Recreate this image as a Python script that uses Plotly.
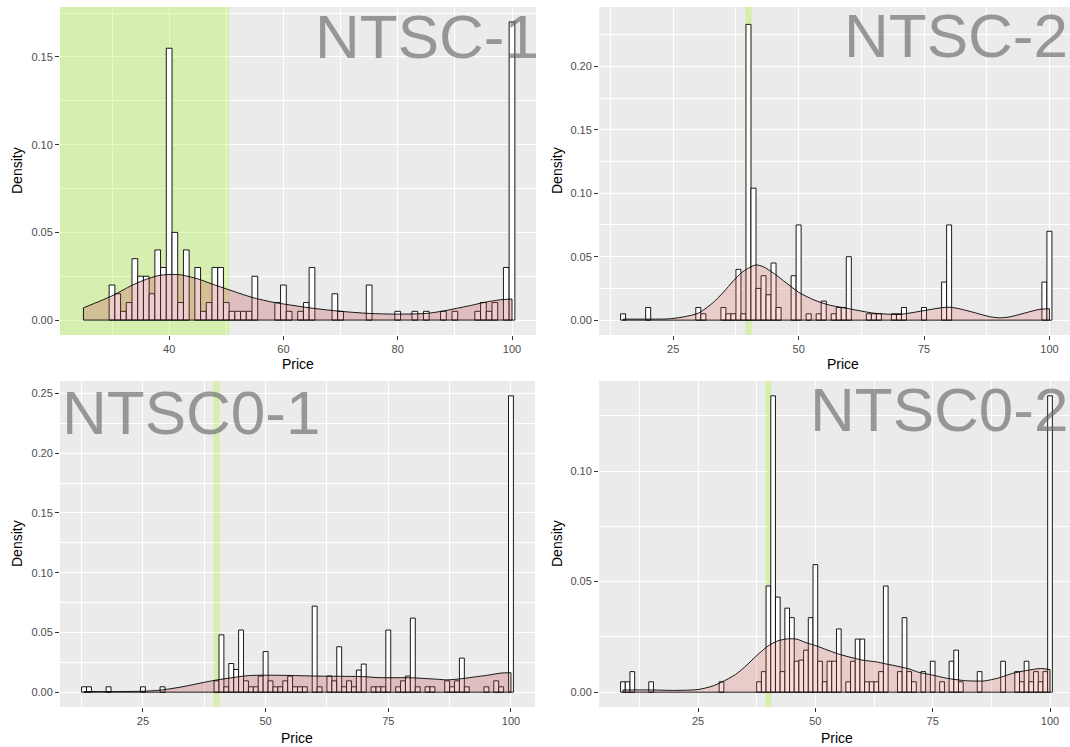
import plotly.graph_objects as go

W, H = 1070, 747

# ---------------- data ----------------
labels = ["NTSC-1", "NTSC-2", "NTSC0-1", "NTSC0-2"]

# histogram bins (price, density) per panel
p1_price = [30, 31, 32, 33, 34, 35, 36, 37, 38, 39, 40, 41, 42, 43, 45, 46, 47, 48, 49, 50,
            51, 52, 53, 54, 55, 59, 60, 61, 63, 64, 65, 69, 70, 75, 80, 83, 85, 88, 90, 94,
            95, 96, 97, 99, 100]
p1_dens = [0.02, 0.015, 0.005, 0.01, 0.035, 0.025, 0.025, 0.015, 0.04, 0.03, 0.155, 0.05, 0.01, 0.04, 0.03, 0.005, 0.01, 0.03, 0.03, 0.01,
           0.005, 0.005, 0.005, 0.005, 0.025, 0.01, 0.02, 0.005, 0.005, 0.01, 0.03, 0.015, 0.005, 0.02, 0.005, 0.005, 0.005, 0.005, 0.005, 0.005,
           0.01, 0.005, 0.01, 0.03, 0.17]

p2_price = [15, 20, 30, 31, 35, 36, 37, 38, 39, 40, 41, 42, 43, 44, 45, 46, 49, 50, 52, 54,
            55, 57, 58, 59, 60, 64, 65, 66, 69, 70, 71, 75, 79, 80, 99, 100]
p2_dens = [0.005, 0.01, 0.01, 0.005, 0.01, 0.005, 0.005, 0.04, 0.005, 0.233, 0.104, 0.025, 0.035, 0.02, 0.045, 0.01, 0.035, 0.075, 0.005, 0.005,
           0.015, 0.005, 0.01, 0.01, 0.05, 0.005, 0.005, 0.005, 0.005, 0.005, 0.01, 0.01, 0.03, 0.075, 0.03, 0.07]

p3_price = [13, 14, 18, 25, 29, 40, 41, 42, 43, 44, 45, 46, 47, 48, 49, 50, 51, 52, 53, 54,
            55, 56, 57, 58, 60, 61, 63, 64, 65, 66, 67, 68, 69, 70, 72, 73, 74, 75, 77, 78,
            79, 80, 81, 83, 84, 87, 88, 89, 90, 91, 95, 97, 98, 100]
p3_dens = [0.0045, 0.0045, 0.0045, 0.0045, 0.0045, 0.0095, 0.048, 0.0045, 0.024, 0.019, 0.052, 0.0095, 0.0045, 0.0045, 0.0135, 0.034, 0.0095, 0.0045, 0.0045, 0.0095,
           0.0135, 0.0045, 0.0045, 0.0045, 0.072, 0.0045, 0.0135, 0.0095, 0.038, 0.0045, 0.0095, 0.0045, 0.0185, 0.0235, 0.0045, 0.0045, 0.0045, 0.052, 0.0045, 0.0095,
           0.0135, 0.062, 0.0045, 0.0045, 0.0045, 0.0095, 0.0045, 0.0095, 0.0285, 0.0045, 0.0045, 0.0095, 0.0045, 0.248]

p4_price = [9, 10, 11, 15, 30, 38, 39, 40, 41, 42, 43, 44, 45, 46, 47, 48, 49, 50, 51, 52,
            53, 54, 55, 57, 58, 59, 60, 61, 62, 63, 64, 65, 68, 69, 70, 71, 73, 75, 77, 79,
            80, 81, 85, 90, 93, 94, 95, 96, 97, 98, 99, 100]
p4_dens = [0.0047, 0.0047, 0.0093, 0.0047, 0.0047, 0.0047, 0.0093, 0.048, 0.134, 0.043, 0.0093, 0.038, 0.0337, 0.014, 0.0145, 0.019, 0.0337, 0.0577, 0.014, 0.0047,
           0.014, 0.014, 0.0286, 0.0047, 0.014, 0.024, 0.024, 0.0047, 0.0047, 0.0047, 0.0093, 0.048, 0.0093, 0.0337, 0.0093, 0.0047, 0.0093, 0.014, 0.0047, 0.014,
           0.019, 0.0047, 0.0093, 0.014, 0.0093, 0.0047, 0.014, 0.0047, 0.0093, 0.0047, 0.0093, 0.134]

# density curves
c1_x = [25, 28, 30, 33, 35, 38, 40, 42, 45, 48, 50, 53, 55, 58, 60, 65, 70, 75, 80, 85, 88, 90, 93, 95, 98, 100]
c1_y = [0.007, 0.011, 0.0138, 0.019, 0.022, 0.0253, 0.026, 0.0258, 0.0235, 0.020, 0.0178, 0.0145, 0.0125, 0.0103, 0.0092, 0.0068, 0.005, 0.0038, 0.0034, 0.0038, 0.0052, 0.0065, 0.0085, 0.010, 0.0116, 0.012]

c2_x = [15, 20, 24, 27, 30, 33, 35, 37, 38.5, 40, 41.5, 43, 45, 47, 50, 53, 56, 60, 65, 70, 72, 75, 78, 80, 82, 85, 88, 90, 92, 95, 98, 100]
c2_y = [0.0008, 0.0008, 0.001, 0.0025, 0.0055, 0.014, 0.022, 0.031, 0.037, 0.041, 0.0435, 0.042, 0.037, 0.031, 0.022, 0.016, 0.012, 0.009, 0.0055, 0.0045, 0.0055, 0.0075, 0.0095, 0.0102, 0.009, 0.006, 0.0028, 0.0018, 0.0025, 0.0055, 0.0085, 0.009]

c3_x = [13, 20, 25, 28, 30, 33, 36, 38, 40, 43, 45, 47, 50, 55, 60, 65, 70, 73, 80, 85, 87, 90, 93, 95, 98, 100]
c3_y = [0.0005, 0.0005, 0.0008, 0.0015, 0.0025, 0.0045, 0.007, 0.0087, 0.0102, 0.012, 0.0132, 0.014, 0.0142, 0.014, 0.0135, 0.0133, 0.013, 0.0122, 0.012, 0.0108, 0.0103, 0.0113, 0.013, 0.014, 0.016, 0.0163]

c4_x = [9, 15, 20, 25, 28, 30, 33, 35, 38, 40, 42, 44, 46, 48, 50, 52, 55, 58, 60, 63, 65, 68, 70, 72, 75, 78, 82, 86, 89, 92, 95, 98, 100]
c4_y = [0.001, 0.001, 0.0008, 0.0012, 0.0027, 0.0045, 0.008, 0.0115, 0.0175, 0.021, 0.0232, 0.0241, 0.024, 0.0224, 0.0211, 0.0195, 0.0172, 0.0155, 0.0145, 0.0137, 0.0128, 0.0115, 0.0105, 0.009, 0.0077, 0.0063, 0.0052, 0.0051, 0.0064, 0.0085, 0.0098, 0.0107, 0.0102]

# axis ticks
x_ticks = [[40, 60, 80, 100], [25, 50, 75, 100], [25, 50, 75, 100], [25, 50, 75, 100]]
y_ticks = [[0, 0.05, 0.10, 0.15], [0, 0.05, 0.10, 0.15, 0.20],
           [0, 0.05, 0.10, 0.15, 0.20, 0.25], [0, 0.05, 0.10]]

# ---------------- layout geometry (pixels) ----------------
panels = [
    dict(bx=p1_price, by=p1_dens, cx=c1_x, cy=c1_y, px=(60, 536), py=(7, 335),
         xr=[20.9, 104.2], yr=[-0.0085, 0.1785], green=(None, 50.5),
         fill="rgba(190,70,70,0.27)"),
    dict(bx=p2_price, by=p2_dens, cx=c2_x, cy=c2_y, px=(599, 1070), py=(7, 335),
         xr=[10.2, 104.1], yr=[-0.0117, 0.2467], green=(39.35, 40.65),
         fill="rgba(215,90,80,0.21)"),
    dict(bx=p3_price, by=p3_dens, cx=c3_x, cy=c3_y, px=(60, 535), py=(381, 707),
         xr=[8.1, 104.9], yr=[-0.0124, 0.2604], green=(39.35, 40.65),
         fill="rgba(190,70,70,0.27)"),
    dict(bx=p4_price, by=p4_dens, cx=c4_x, cy=c4_y, px=(599, 1070), py=(381, 707),
         xr=[3.9, 104.26], yr=[-0.0067, 0.1407], green=(39.35, 40.65),
         fill="rgba(215,90,80,0.21)"),
]

label_pos = [  # (x px, anchor, y px centre)
    (541, "right", 37), (1070, "right", 35), (60, "left", 412), (1070, "right", 409)]
price_pos = [(298, 364), (843, 364), (297, 738), (837, 738)]
dens_pos = [(17, 171), (557, 171), (17, 544), (557, 544)]

GREEN = "rgba(175,245,60,0.33)"
fig = go.Figure()
layout = dict(width=W, height=H, margin=dict(l=0, r=0, t=0, b=0),
              plot_bgcolor="#EBEBEB", paper_bgcolor="white", showlegend=False,
              shapes=[], annotations=[])


def minors(t):
    step = t[1] - t[0]
    return [t[0] - step / 2] + [(a + b) / 2 for a, b in zip(t[:-1], t[1:])] + [t[-1] + step / 2]


TICKFONT = dict(family="Liberation Sans, Arial", size=11, color="#4D4D4D")

for i, p in enumerate(panels):
    n = "" if i == 0 else str(i + 1)
    xa, ya = "x" + n, "y" + n
    fig.add_trace(go.Bar(x=p["bx"], y=p["by"], width=1,
                         marker=dict(color="white", line=dict(color="black", width=0.9)),
                         xaxis=xa, yaxis=ya, hoverinfo="skip"))
    fig.add_trace(go.Scatter(x=p["cx"], y=p["cy"], mode="lines", fill="tozeroy",
                             fillcolor=p["fill"],
                             line=dict(color="black", width=0.9, shape="spline", smoothing=0.7),
                             xaxis=xa, yaxis=ya, hoverinfo="skip"))
    cx, cy = p["cx"], p["cy"]
    fig.add_trace(go.Scatter(x=[cx[-1], cx[-1], cx[0], cx[0]], y=[cy[-1], 0, 0, cy[0]],
                             mode="lines", line=dict(color="black", width=0.9),
                             xaxis=xa, yaxis=ya, hoverinfo="skip"))
    xt, yt = x_ticks[i], y_ticks[i]
    layout["xaxis" + n] = dict(
        domain=[p["px"][0] / W, p["px"][1] / W], range=p["xr"], anchor=ya,
        tickvals=xt, ticktext=[str(v) for v in xt], ticks="outside", ticklen=4,
        tickcolor="#333333", tickfont=TICKFONT,
        showgrid=True, gridcolor="white", gridwidth=1.4, zeroline=False, showline=False,
        minor=dict(tickvals=minors(xt), showgrid=True, gridcolor="white", gridwidth=0.7))
    layout["yaxis" + n] = dict(
        domain=[1 - p["py"][1] / H, 1 - p["py"][0] / H], range=p["yr"], anchor=xa,
        tickvals=yt, ticktext=["%.2f" % v for v in yt], ticks="outside", ticklen=4,
        tickcolor="#333333", tickfont=TICKFONT,
        showgrid=True, gridcolor="white", gridwidth=1.4, zeroline=False, showline=False,
        minor=dict(tickvals=minors(yt), showgrid=True, gridcolor="white", gridwidth=0.7))
    g0, g1 = p["green"]
    layout["shapes"].append(dict(type="rect", xref=xa, yref=ya,
                                 x0=p["xr"][0] if g0 is None else g0, x1=g1,
                                 y0=p["yr"][0], y1=p["yr"][1],
                                 fillcolor=GREEN, line=dict(width=0), layer="between"))
    lx, anc, ly = label_pos[i]
    layout["annotations"].append(dict(text=labels[i], xref="paper", yref="paper",
                                      x=lx / W, y=1 - ly / H, xanchor=anc, yanchor="middle",
                                      showarrow=False,
                                      font=dict(family="Liberation Sans, Arial", size=62,
                                                color="rgba(100,100,100,0.63)")))
    px_, py_ = price_pos[i]
    layout["annotations"].append(dict(text="Price", xref="paper", yref="paper",
                                      x=px_ / W, y=1 - py_ / H, xanchor="center", yanchor="middle",
                                      showarrow=False,
                                      font=dict(family="Liberation Sans, Arial", size=14, color="black")))
    dx, dy = dens_pos[i]
    layout["annotations"].append(dict(text="Density", xref="paper", yref="paper",
                                      x=dx / W, y=1 - dy / H, xanchor="center", yanchor="middle",
                                      showarrow=False, textangle=-90,
                                      font=dict(family="Liberation Sans, Arial", size=14, color="black")))

fig.update_layout(**layout)
fig.write_html("out.html", config={"displayModeBar": False},
               post_script="document.body.style.margin='0';")
